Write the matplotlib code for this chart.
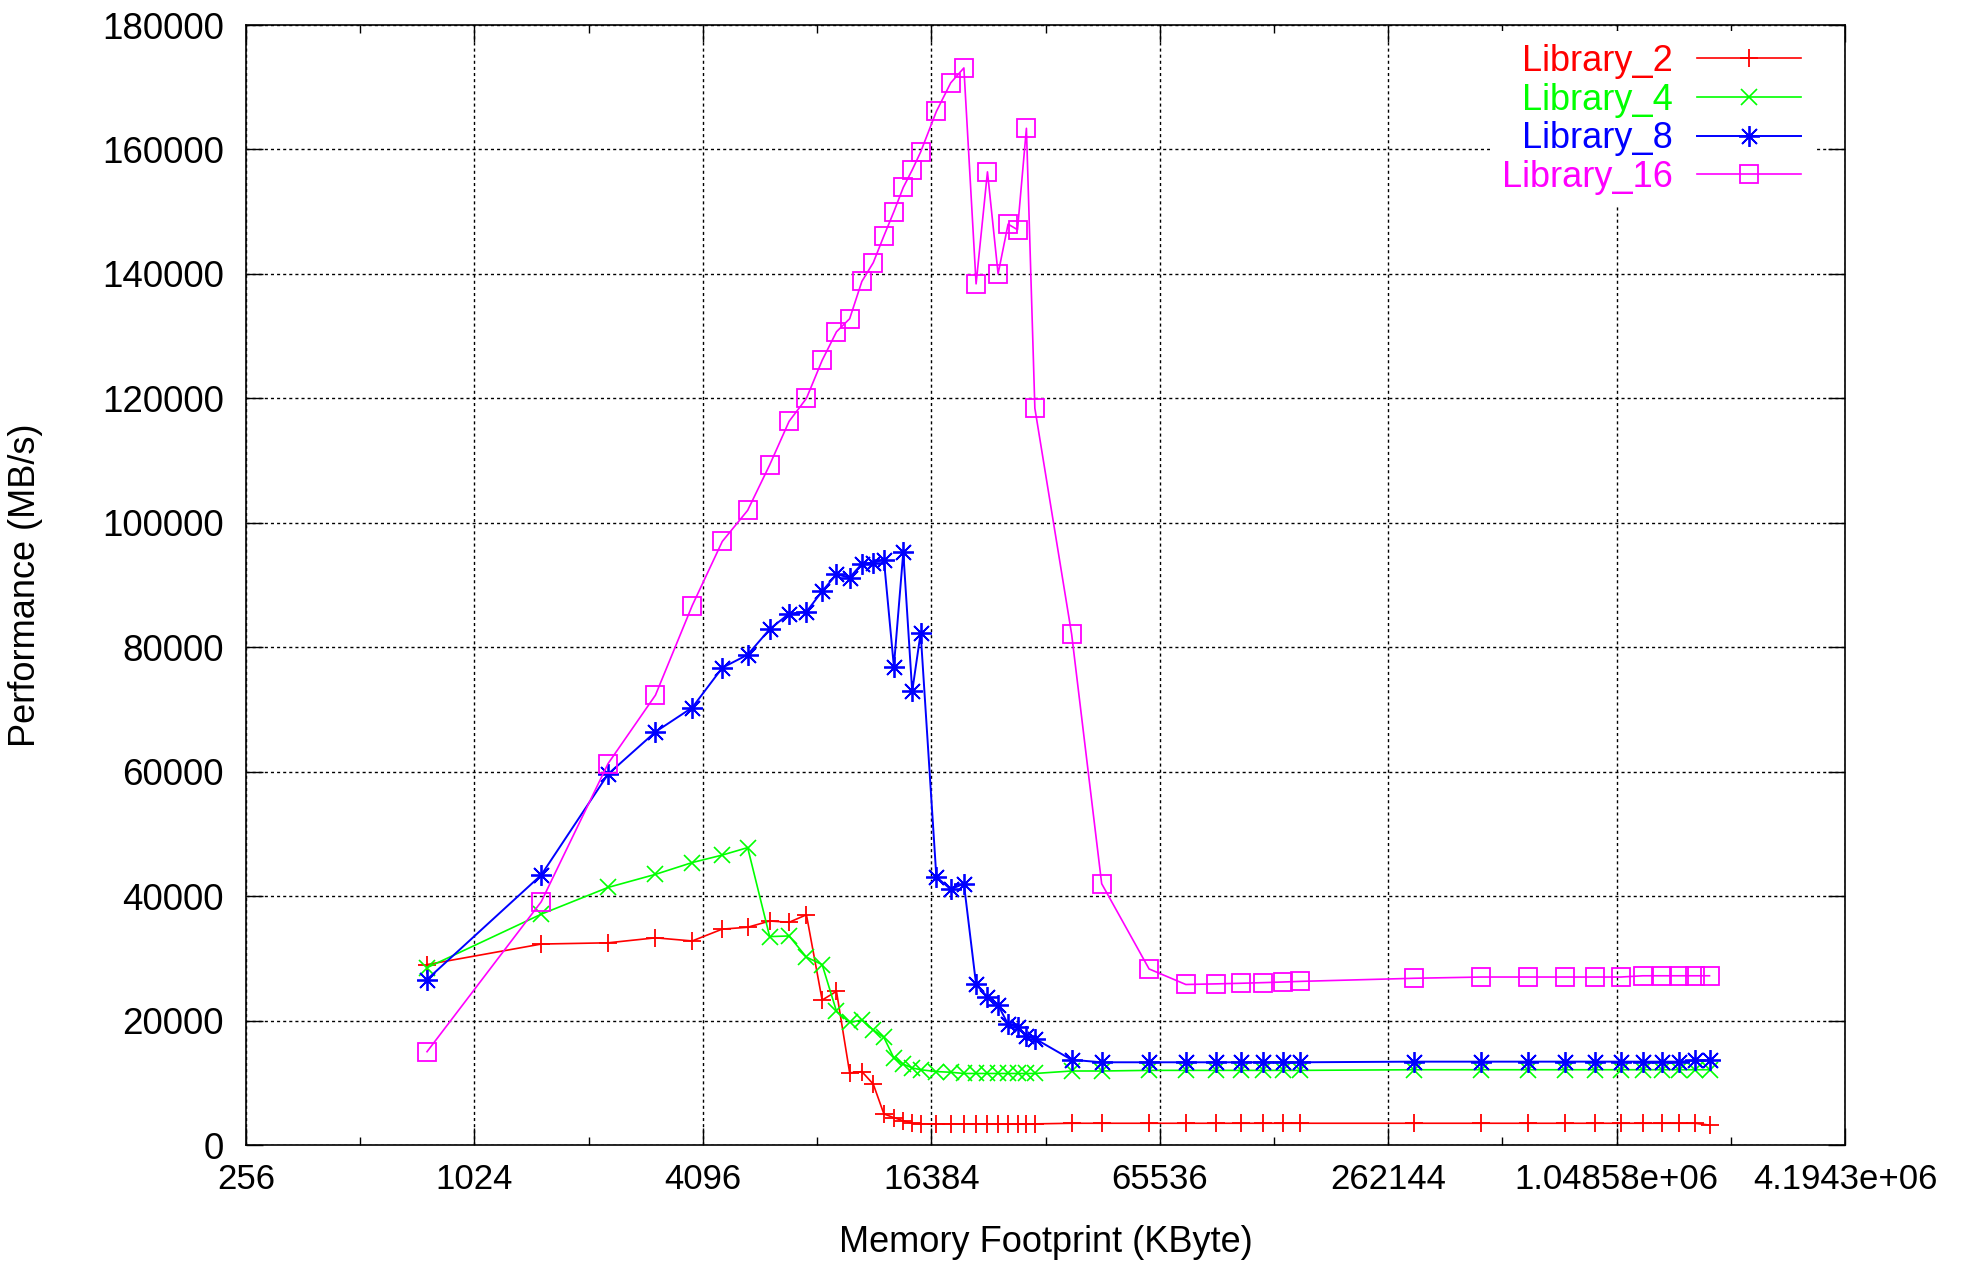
import matplotlib
matplotlib.use("Agg")
import matplotlib.pyplot as plt
from matplotlib.ticker import FixedLocator, FormatStrFormatter, NullFormatter

plt.rcParams['font.family'] = ['Liberation Sans', 'DejaVu Sans']

# memory footprint (KByte), shared by all series
footprint = [768, 1536, 2304, 3072, 3840, 4608, 5376, 6144, 6912, 7680,
             8448, 9216, 9984, 10752, 11520, 12288, 13056, 13824, 14592, 15360,
             16896, 18432, 19968, 21504, 23040, 24576, 26112, 27648, 29184, 30720,
             38400, 46080, 61440, 76800, 92160, 107520, 122880, 138240, 153600,
             307200, 460800, 614400, 768000, 921600, 1075200, 1228800, 1382400,
             1536000, 1689600, 1843200]

lib2 = [29000, 32300, 32500, 33300, 32800, 34700, 35000, 36000, 35800, 37000,
        23300, 24700, 11600, 11800, 9800, 5000, 4400, 3900, 3500, 3400,
        3400, 3400, 3400, 3400, 3400, 3400, 3400, 3400, 3400, 3400,
        3500, 3500, 3500, 3500, 3500, 3500, 3500, 3500, 3500,
        3500, 3500, 3500, 3500, 3500, 3500, 3500, 3500, 3500, 3500, 3200]

lib4 = [28500, 37100, 41400, 43500, 45400, 46600, 47800, 33500, 33600, 30200,
        29000, 21500, 19700, 20100, 18500, 17300, 14000, 13000, 12400, 12100,
        11800, 11700, 11500, 11500, 11500, 11500, 11500, 11500, 11500, 11500,
        11900, 11900, 12000, 12000, 12000, 12000, 12000, 12000, 12000,
        12100, 12100, 12100, 12100, 12100, 12100, 12100, 12100, 12100, 12100, 12100]

lib8 = [26600, 43400, 59600, 66400, 70300, 76700, 78800, 82900, 85400, 85700,
        89000, 91700, 91200, 93400, 93600, 94100, 76900, 95300, 72900, 82300,
        43100, 41100, 42000, 25800, 23800, 22500, 19400, 19000, 17500, 17100,
        13700, 13300, 13300, 13300, 13300, 13300, 13300, 13300, 13300,
        13400, 13400, 13400, 13400, 13400, 13400, 13400, 13400, 13400, 13600, 13600]

lib16 = [15000, 39100, 61300, 72300, 86700, 97000, 102000, 109300, 116300, 120000,
         126100, 130700, 132800, 138800, 141800, 146100, 150000, 153900, 156700, 159600,
         166100, 170700, 173100, 138400, 156400, 140000, 148000, 147100, 163400, 118400,
         82100, 42000, 28300, 25800, 25900, 26000, 26100, 26200, 26300,
         26800, 27000, 27000, 27000, 27000, 27000, 27200, 27200, 27200, 27200, 27200]

xticks = [256, 1024, 4096, 16384, 65536, 262144, 1048576, 4194304]
xminor = [512, 2048, 8192, 32768, 131072, 524288, 2097152]
yticks = list(range(0, 180001, 20000))

fig = plt.figure(figsize=(19.68, 12.63), dpi=100)
ax = fig.add_axes([0.125, 0.0934, 0.8125, 0.8868])

ax.plot(footprint, lib2, color='#ff0000', lw=1.2, marker='+', ms=12.5, mew=1.3,
        label='Library_2')
ax.plot(footprint, lib4, color='#00ff00', lw=1.2, marker='x', ms=11, mew=1.2,
        label='Library_4')
ax.plot(footprint, lib8, color='#0000ff', lw=1.4, marker=(8, 2, 0), ms=15, mew=1.3,
        label='Library_8')
ax.plot(footprint, lib16, color='#ff00ff', lw=1.2, marker='s', ms=13, mew=1.3,
        mfc='none', label='Library_16')

ax.set_xscale('log', base=2)
ax.set_xlim(256, 4194304)
ax.set_ylim(0, 180000)
ax.xaxis.set_major_locator(FixedLocator(xticks))
ax.xaxis.set_major_formatter(FormatStrFormatter('%g'))
ax.xaxis.set_minor_locator(FixedLocator(xminor))
ax.xaxis.set_minor_formatter(NullFormatter())
ax.yaxis.set_major_locator(FixedLocator(yticks))
ax.yaxis.set_major_formatter(FormatStrFormatter('%d'))

ax.tick_params(which='both', direction='in', top=True, right=True, color='black')
ax.tick_params(which='major', length=12, width=1.0)
ax.tick_params(which='minor', length=6, width=1.0)
ax.tick_params(axis='x', which='major', labelsize=25, pad=13)
ax.tick_params(axis='y', which='major', labelsize=26.5, pad=16)

ax.grid(True, which='major', color='black', linestyle=(0, (2.2, 2.2)), lw=1.0)
ax.set_axisbelow(True)
for s in ax.spines.values():
    s.set_linewidth(1.2)
    s.set_color('black')

ax.set_xlabel('Memory Footprint (KByte)', fontsize=26)
ax.xaxis.set_label_coords(0.5, -0.0715)
ax.set_ylabel('Performance (MB/s)', fontsize=26)
ax.yaxis.set_label_coords(-0.127, 0.5)

leg = ax.legend(loc='upper right', bbox_to_anchor=(0.9806, 0.9944), markerfirst=False,
                fontsize=26, labelcolor='linecolor', handlelength=2.9,
                handletextpad=0.65, labelspacing=0.1, borderpad=0.35,
                borderaxespad=0, frameon=True, fancybox=False, framealpha=1,
                facecolor='white', numpoints=1)
leg.get_frame().set_linewidth(0)

fig.savefig('out.png', dpi=100)
